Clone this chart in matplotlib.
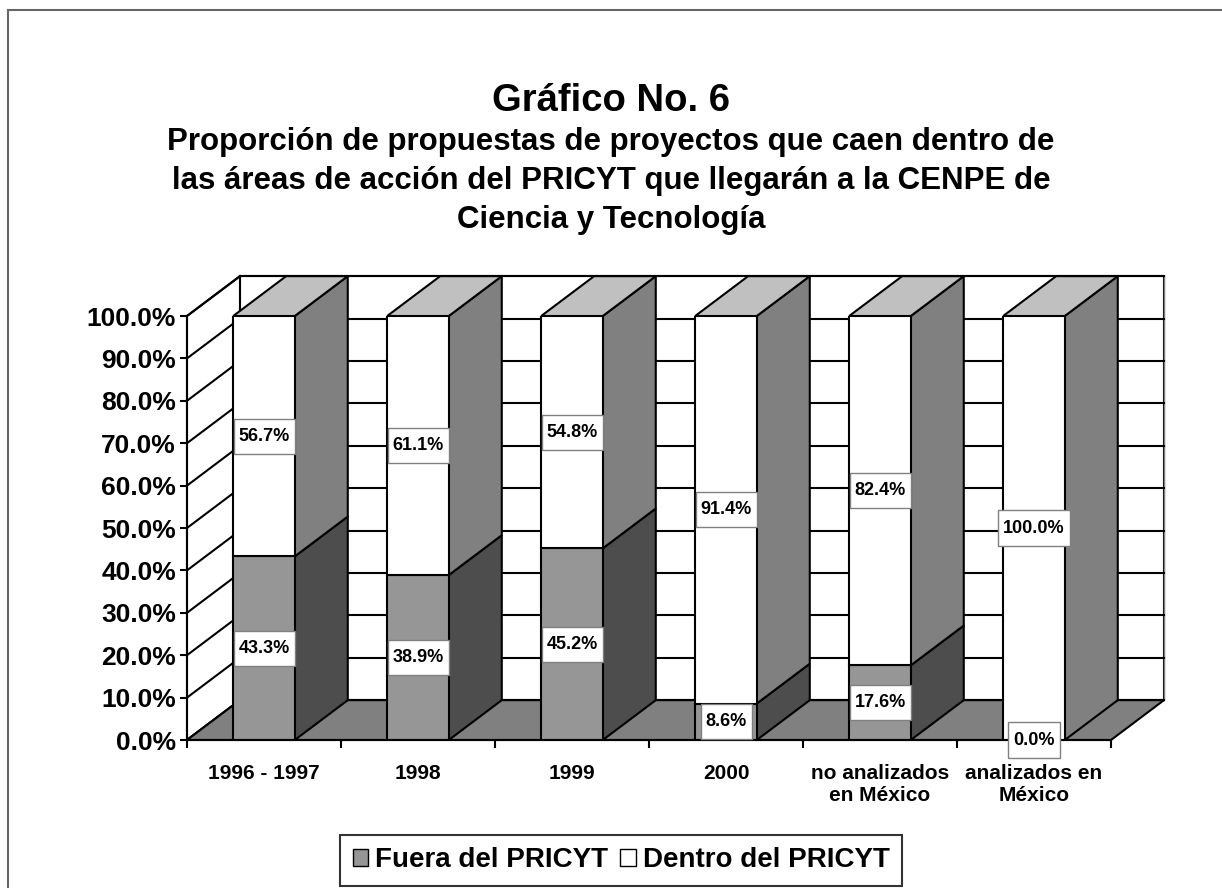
import numpy as np
import matplotlib
matplotlib.use("Agg")
import matplotlib.pyplot as plt
from matplotlib.patches import Polygon, Rectangle, Patch
from matplotlib.path import Path

plt.rcParams['font.family'] = ['Liberation Sans', 'DejaVu Sans']
plt.rcParams['font.weight'] = 'bold'

categories = ['1996 - 1997', '1998', '1999', '2000',
              'no analizados\nen México', 'analizados en\nMéxico']
fuera = [43.3, 38.9, 45.2, 8.6, 17.6, 0.0]
dentro = [56.7, 61.1, 54.8, 91.4, 82.4, 100.0]
yticks = np.arange(0, 101, 10)

# pseudo-3D depth offset in data units (x: categories, y: percent)
DX, DY = 0.344, 9.4
BW = 0.4
EDGE = 'black'
LW = 1.5

fig = plt.figure(figsize=(12.22, 8.88), dpi=100)
ax = fig.add_axes([187/1222, 148/888, 924/1222, 424/888])
ax.set_xlim(0, 6)
ax.set_ylim(0, 100)
ax.patch.set_visible(False)

def poly(pts, fc, z):
    p = Polygon(pts, closed=True, facecolor=fc, edgecolor=EDGE, lw=LW,
                zorder=z, clip_on=False, joinstyle='miter')
    ax.add_patch(p)

def tall_box(x0, y0, width, height, mutation_size):
    # label box: a little padding sideways, more above and below
    px, py = 0.27 * mutation_size, 0.5 * mutation_size
    x0, y0 = x0 - px, y0 - py
    x1, y1 = x0 + width + 2 * px, y0 + height + 2 * py
    return Path([(x0, y0), (x1, y0), (x1, y1), (x0, y1), (x0, y0)], closed=True)

# back wall
poly([(DX, DY), (6 + DX, DY), (6 + DX, 100 + DY), (DX, 100 + DY)], 'white', 1)
ax.plot([6 + DX, 6 + DX], [DY, 100 + DY], color='#808080', lw=1, zorder=1.5, clip_on=False)
# side wall
poly([(0, 0), (DX, DY), (DX, 100 + DY), (0, 100)], 'white', 1)
for v in yticks:
    ax.plot([DX, 6 + DX], [v + DY, v + DY], color='black', lw=LW, zorder=2, clip_on=False)
    ax.plot([0, DX], [v, v + DY], color='black', lw=LW, zorder=2, clip_on=False)
# floor
poly([(0, 0), (6, 0), (6 + DX, DY), (DX, DY)], '#808080', 3)

x = np.arange(len(categories))
left = x + 0.3
ax.bar(left, fuera, width=BW, align='edge', color='#969696', edgecolor=EDGE,
       lw=LW, zorder=5, label='Fuera del PRICYT')
ax.bar(left, dentro, width=BW, bottom=fuera, align='edge', color='white',
       edgecolor=EDGE, lw=LW, zorder=5, label='Dentro del PRICYT')

for i in range(len(categories)):
    r = left[i] + BW
    f, d = fuera[i], dentro[i]
    if f > 0:
        poly([(r, 0), (r + DX, DY), (r + DX, f + DY), (r, f)], '#4d4d4d', 4)
    poly([(r, f), (r + DX, f + DY), (r + DX, f + d + DY), (r, f + d)], '#808080', 4)
    top = f + d
    poly([(left[i], top), (r, top), (r + DX, top + DY), (left[i] + DX, top + DY)], '#c0c0c0', 4)

    for val, ypos in [(f, f / 2), (d, f + d / 2)]:
        t = ax.text(i + 0.5, ypos, f'{val:.1f}%', ha='center', va='center', fontsize=13,
                    fontweight='bold', zorder=10, clip_on=False,
                    bbox=dict(facecolor='white', edgecolor='#808080', lw=1))
        t.get_bbox_patch().set_boxstyle(tall_box)

for s in ['top', 'right']:
    ax.spines[s].set_visible(False)
for s in ['left', 'bottom']:
    ax.spines[s].set_linewidth(LW)
    ax.spines[s].set_zorder(6)

ax.set_yticks(yticks)
ax.set_yticklabels([f'{v:.1f}%' for v in yticks], fontsize=19, fontweight='bold')
ax.tick_params(axis='y', direction='out', length=5, width=LW, pad=3)
ax.set_xticks(np.arange(0, 7))
ax.set_xticklabels([])
ax.tick_params(axis='x', which='major', direction='out', length=6, width=LW)
ax.set_xticks(x + 0.5, minor=True)
ax.set_xticklabels(categories, minor=True, fontsize=15, fontweight='bold', linespacing=1.2)
ax.tick_params(axis='x', which='minor', length=0, pad=17)

fig.text(0.5, 1 - 101/888, 'Gráfico No. 6', ha='center', va='center',
         fontsize=27.5, fontweight='bold')
fig.text(0.5, 1 - 181/888,
         'Proporción de propuestas de proyectos que caen dentro de\n'
         'las áreas de acción del PRICYT que llegarán a la CENPE de\n'
         'Ciencia y Tecnología', ha='center', va='center', fontsize=22.5,
         fontweight='bold', linespacing=1.39)

handles = [Patch(facecolor='#969696', edgecolor='black', lw=1),
           Patch(facecolor='white', edgecolor='black', lw=1)]
leg = fig.legend(handles, ['Fuera del PRICYT', 'Dentro del PRICYT'], loc='center',
                 bbox_to_anchor=(621/1222, 1 - 860/888), ncol=2, frameon=True,
                 fancybox=False, edgecolor='black', prop={'size': 20, 'weight': 'bold'},
                 handlelength=0.55, handleheight=0.55, handletextpad=0.25,
                 columnspacing=0.45, borderpad=0.45, borderaxespad=0)
leg.get_frame().set_linewidth(LW)

fig.patches.append(Rectangle((8/1222, -0.1), 1.2, 1 - 10/888 + 0.1,
                             transform=fig.transFigure, fill=False,
                             edgecolor='#666666', lw=1.5))

fig.savefig('out.png', dpi=100)
